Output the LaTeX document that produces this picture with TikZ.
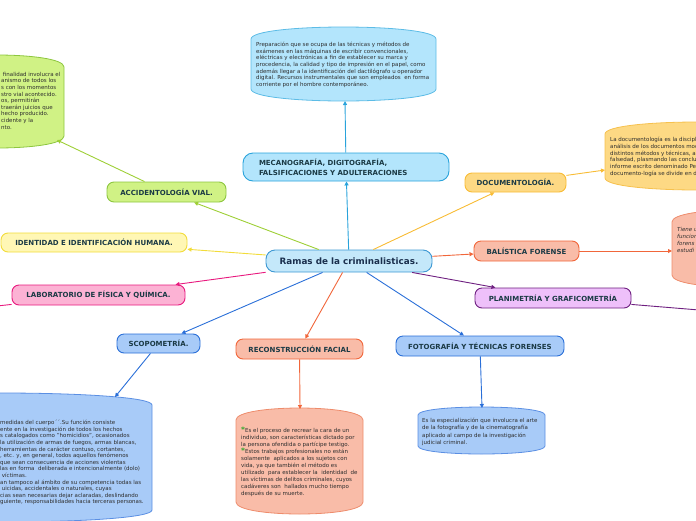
\documentclass[tikz,border=0pt]{standalone}
\usepackage{fontspec}
\setmainfont{DejaVu Sans}
\usepackage{xcolor}
\usetikzlibrary{arrows.meta}

\definecolor{cyanfill}{HTML}{B3E5FC}
\definecolor{cyanline}{HTML}{29A3DB}
\definecolor{cyanedge}{HTML}{5DBCE6}
\definecolor{centerfill}{HTML}{C4E8FA}
\definecolor{centerline}{HTML}{3D98D3}
\definecolor{greenfill}{HTML}{D0F285}
\definecolor{greenline}{HTML}{8DC63F}
\definecolor{yellowfill}{HTML}{FFF7B5}
\definecolor{yellowline}{HTML}{F2DC3A}
\definecolor{orangefill}{HTML}{FDD984}
\definecolor{orangeline}{HTML}{F8BC35}
\definecolor{orangeedge}{HTML}{F6C14E}
\definecolor{salmonfill}{HTML}{F9BCA8}
\definecolor{salmonline}{HTML}{F1663A}
\definecolor{salmonedge}{HTML}{EE8C6C}
\definecolor{pinkfill}{HTML}{FCB2D4}
\definecolor{pinkline}{HTML}{E8197E}
\definecolor{bluefill}{HTML}{A8CBF8}
\definecolor{blueline}{HTML}{2A6FD8}
\definecolor{blueedge}{HTML}{5B8FE3}
\definecolor{purplefill}{HTML}{EEC0FA}
\definecolor{purpleline}{HTML}{6E1F80}
\definecolor{labeltext}{HTML}{1B3A45}
\definecolor{centertext}{HTML}{1A2F4D}
\definecolor{bodytext}{HTML}{2E2E2E}
\definecolor{starcolor}{HTML}{2FA82C}

\tikzset{
  branch/.style={draw, line width=0.9pt, rounded corners=7pt, inner sep=0pt, align=center,
    font=\bfseries\fontsize{7}{10}\selectfont, text=labeltext},
  link/.style={line width=0.9pt, -{Triangle[length=4pt,width=4pt]}},
  note/.style={inner sep=0pt, anchor=north west, align=left, text=bodytext,
    font=\fontsize{5.5}{6.7}\selectfont},
  bubble/.style={line width=0.8pt},
}

% rounded box with curved top and bottom: style, x1, ytop, x2, ybottom, bulge
\newcommand{\bubblepath}[6]{%
  \draw[bubble,#1] ({#2},{#3+#6}) .. controls ({#2},{#3-#6/3}) and ({#4},{#3-#6/3}) .. ({#4},{#3+#6})
    -- ({#4},{#5-#6}) .. controls ({#4},{#5+#6/3}) and ({#2},{#5+#6/3}) .. ({#2},{#5-#6}) -- cycle;}

\newcommand{\greenstar}{\textcolor{starcolor}{\bfseries\fontsize{7.5}{7}\selectfont*}}

\begin{document}
\begin{tikzpicture}[x=1pt,y=-1pt]
\useasboundingbox (0,0) rectangle (696,520);

\bubblepath{fill=cyanfill, draw=cyanedge}{251}{27}{436}{101}{12}
\bubblepath{fill=greenfill, draw=greenline}{-70}{55}{64}{148}{12}
\bubblepath{fill=orangefill, draw=orangeedge}{605}{122}{790}{190}{12}
\bubblepath{fill=salmonfill, draw=salmonedge}{672}{210}{800}{287}{12}
\bubblepath{fill=bluefill, draw=blueedge}{-150}{393}{152}{522}{12}
\bubblepath{fill=salmonfill, draw=salmonedge}{236}{408}{363}{514}{12}
\bubblepath{fill=bluefill, draw=blueedge}{418}{407}{545}{454}{8}

\node (prepnote) at (256,42) [note, font=\fontsize{5.5}{6.6}\selectfont] {Preparación que se ocupa de las técnicas y métodos de\\
exámenes en las máquinas de escribir convencionales,\\
eléctricas y electrónicas a fin de establecer su marca y\\
procedencia, la calidad y tipo de impresión en el papel, como\\
además llegar a la identificación del dactilógrafo u operador\\
digital. Recursos instrumentales que son empleados\ \ en forma\\
corriente por el hombre contemporáneo.};

\node (accidnote) at (1,72) [note, font=\fontsize{5.5}{6.6}\selectfont] {\ finalidad involucra el\\
anismo de todos los\\
s con los momentos\\
stro vial acontecido.\\
os, permitirán\\
traerán juicios que\\
hecho producido.\\
cidente y la\\
nto.};

\node (docnote) at (610,137) [note] {La documentología es la discipl\\
análisis de los documentos mod\\
distintos métodos y técnicas, a\\
falsedad, plasmando las conclu\\
informe escrito denominado Pe\\
documento-logía se divide en d};

\node (balisnote) at (677,227) [note, font=\itshape\fontsize{5.5}{7.2}\selectfont] {Tiene u\\
funcion\\
forens\\
estudi};

\node (scopnote) at (0,420) [note, font=\fontsize{5.5}{6.6}\selectfont] {medidas del cuerpo´´.Su función consiste\\
ente en la investigación de todos los hechos\\
s catalogados como "homicidios", ocasionados\\
la utilización de armas de fuegos, armas blancas,\\
herramientas de carácter contuso, cortantes,\\
, etc. y, en general, todos aquellos fenómenos\\
que sean consecuencia de acciones violentas\\
las en forma\ \ deliberada e intencionalmente (dolo)\\
\ víctimas.\\
an tampoco al ámbito de su competencia todas las\\
\ uicidas, accidentales o naturales, cuyas\\
cias sean necesarias dejar aclaradas, deslindando\\
guiente, responsabilidades hacia terceras personas.};

\node (reconnote) at (241,427) [note, font=\fontsize{5.5}{7}\selectfont] {\greenstar Es el proceso de recrear la cara de un\\
individuo, son características dictado por\\
la persona ofendida o partícipe testigo.\\
\greenstar Estos trabajos profesionales no están\\
solamente\ \ aplicados a los sujetos con\\
vida, ya que también el método es\\
utilizado\ \ para establecer la\ \ identidad\ \ de\\
las víctimas de delitos criminales, cuyos\\
cadáveres son\ \ hallados mucho tiempo\\
después de su muerte.};

\node (fotonote) at (422,418) [note, font=\fontsize{5.5}{7.2}\selectfont] {Es la especialización que involucra el arte\\
de la fotografía y de la cinematografía\\
aplicado al campo de la investigación\\
judicial criminal.};

\node (ramas) at (349,261) [branch, fill=centerfill, draw=centerline, minimum width=166pt, minimum height=22pt,
  rounded corners=9pt, font=\bfseries\fontsize{8.8}{10}\selectfont, text=centertext] {Ramas de la criminalisticas.};

\node (meca) at (346,167) [branch, fill=cyanfill, draw=cyanline, minimum height=28pt, text width=174pt,
  inner xsep=16pt, align=left, rounded corners=10pt] {MECANOGRAFÍA, DIGITOGRAFÍA,\\FALSIFICACIONES Y ADULTERACIONES};
\node (accid) at (166.5,192) [branch, fill=greenfill, draw=greenline, minimum width=119pt, minimum height=20pt] {ACCIDENTOLOGÍA VIAL.};
\node (doc) at (515.5,182.5) [branch, fill=orangefill, draw=orangeline, minimum width=101pt, minimum height=19pt] {DOCUMENTOLOGÍA.};
\node (ident) at (94,242.5) [branch, fill=yellowfill, draw=yellowline, minimum width=186pt, minimum height=19pt] {IDENTIDAD E IDENTIFICACIÓN HUMANA.};
\node (balis) at (526.5,251) [branch, fill=salmonfill, draw=salmonline, minimum width=105pt, minimum height=20pt] {BALÍSTICA FORENSE};
\node (lab) at (98.5,295) [branch, fill=pinkfill, draw=pinkline, minimum width=173pt, minimum height=20pt] {LABORATORIO DE FÍSICA Y QUÍMICA.};
\node (plan) at (553,298) [branch, fill=purplefill, draw=purpleline, minimum width=156pt, minimum height=20pt] {PLANIMETRÍA Y GRAFICOMETRÍA};
\node (scop) at (158.5,343.5) [branch, fill=bluefill, draw=blueline, minimum width=83pt, minimum height=19pt] {SCOPOMETRÍA.};
\node (recon) at (299.5,349) [branch, fill=salmonfill, draw=salmonline, minimum width=127pt, minimum height=20pt] {RECONSTRUCCIÓN FACIAL};
\node (foto) at (480,346) [branch, fill=bluefill, draw=blueline, minimum width=168pt, minimum height=20pt] {FOTOGRAFÍA Y TÉCNICAS FORENSES};

\coordinate (prep-in) at (345,101);
\coordinate (accid-in) at (57,140);
\coordinate (doc-in) at (605,170);
\coordinate (balis-in) at (672,251);
\coordinate (lab-out) at (-40,310);
\coordinate (plan-out) at (760,315);
\coordinate (scop-in) at (115,397);
\coordinate (recon-in) at (300,409);
\coordinate (foto-in) at (482,408);

\draw[link, cyanline] (ramas) -- (meca);
\draw[link, greenline!85!yellow] (ramas) -- (accid);
\draw[link, orangeline] (ramas) -- (doc);
\draw[link, yellowline] (ramas) -- (ident);
\draw[link, salmonline] (ramas) -- (balis);
\draw[link, pinkline] (ramas) -- (lab);
\draw[link, purpleline] (ramas) -- (plan);
\draw[link, blueline] (ramas) -- (scop);
\draw[link, salmonline] (ramas) -- (recon);
\draw[link, blueline] (ramas) -- (foto);

\draw[link, cyanline] (meca) -- (prep-in);
\draw[link, greenline!85!yellow] (accid) -- (accid-in);
\draw[link, orangeline] (doc) -- (doc-in);
\draw[link, salmonline] (balis) -- (balis-in);
\draw[link, pinkline] (lab) -- (lab-out);
\draw[link, purpleline] (plan) -- (plan-out);
\draw[link, blueline] (scop) -- (scop-in);
\draw[link, salmonline] (recon) -- (recon-in);
\draw[link, blueline] (foto) -- (foto-in);
\end{tikzpicture}
\end{document}
